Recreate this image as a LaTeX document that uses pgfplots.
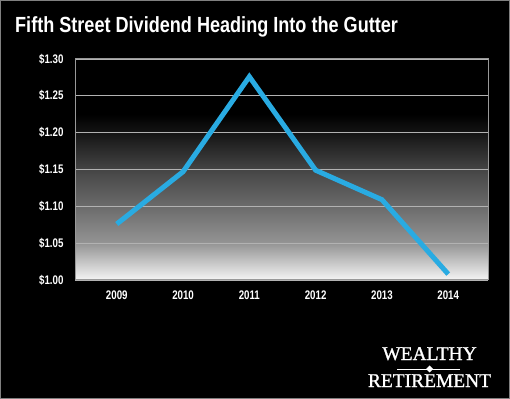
\documentclass[border=0pt]{standalone}
\usepackage{pgfplots}
\pgfplotsset{compat=1.18}
\usepackage{fontspec}
\setmainfont{Liberation Sans}
\newfontfamily\titlefont[FakeStretch=0.825]{Liberation Sans Bold}
\newfontfamily\tickfont[FakeStretch=0.78]{Liberation Sans Bold}
\newfontfamily\logofont[FakeBold=1.2]{Liberation Serif}
\definecolor{linecol}{HTML}{29ABE2}
\pgfdeclareverticalshading{bgshade}{100bp}{color(0bp)=(black!4); color(25bp)=(black!4); color(33.33bp)=(black!42); color(41.67bp)=(black!58); color(50bp)=(black!73); color(58.33bp)=(black!92); color(62.5bp)=(black); color(75bp)=(black); color(100bp)=(black)}
\begin{document}
\begin{tikzpicture}
\draw[fill=black, draw=black!50, line width=1bp] (0.5bp,0.5bp) rectangle (509.5bp,398.5bp);
\node[anchor=base west, font=\titlefont\fontsize{22}{24}\selectfont, text=white, inner sep=0] at (15bp,366bp) {Fifth Street Dividend Heading Into the Gutter};
\begin{axis}[
  at={(75bp,119bp)}, anchor=south west,
  scale only axis, width=413bp, height=221bp,
  xmin=-0.63, xmax=5.6, ymin=1, ymax=1.3,
  xtick={0,1,2,3,4,5},
  xticklabels={2009,2010,2011,2012,2013,2014},
  ytick={1,1.05,1.1,1.15,1.2,1.25,1.3},
  yticklabels={\$1.00,\$1.05,\$1.10,\$1.15,\$1.20,\$1.25,\$1.30},
  ymajorgrids,
  grid style={black!30, line width=0.8bp},
  axis line style={draw=black!40, line width=1bp},
  major tick length=0pt,
  tick label style={font=\tickfont\fontsize{12.5}{13}\selectfont, text=white},
  yticklabel style={xshift=-8bp},
  xticklabel style={yshift=-7bp},
  axis background/.style={shading=bgshade},
]
\addplot[linecol, line width=5bp, line join=miter, no marks] coordinates {(0,1.076) (1,1.147) (2,1.276) (3,1.149) (4,1.109) (5,1.008)};
\end{axis}
\node[anchor=base, font=\logofont\fontsize{19.5}{20}\selectfont, text=white, inner sep=0] at (429.5bp,39bp) {WEALTHY};
\node[anchor=base, font=\logofont\fontsize{19.5}{20}\selectfont, text=white, inner sep=0] at (429.5bp,12bp) {RETIREMENT};
\draw[white, line width=0.6bp] (397bp,30bp) -- (460bp,30bp);
\draw[white, line width=0.9bp] (418bp,30bp) -- (441bp,30bp);
\fill[white] (429.5bp,26.5bp) -- (433bp,30bp) -- (429.5bp,33.5bp) -- (426bp,30bp) -- cycle;
\end{tikzpicture}
\end{document}
